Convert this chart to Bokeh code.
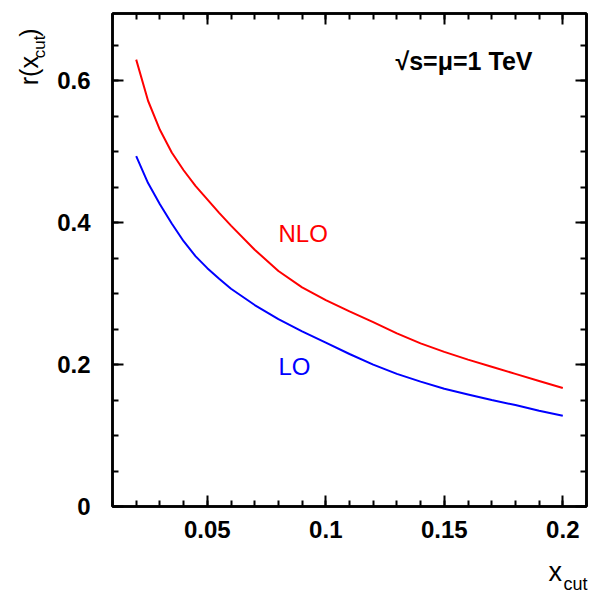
import math
from bokeh.plotting import figure
from bokeh.models import Label, LinearAxis, Range1d, FixedTicker
from bokeh.layouts import column, row
from bokeh.embed import file_html
from bokeh.resources import INLINE

x_cut = [0.02, 0.025, 0.03, 0.035, 0.04, 0.045, 0.05, 0.055, 0.06, 0.07, 0.08, 0.09,
         0.10, 0.11, 0.12, 0.13, 0.14, 0.15, 0.16, 0.17, 0.18, 0.19, 0.20]
r_nlo = [0.630, 0.572, 0.531, 0.499, 0.474, 0.452, 0.433, 0.414, 0.396, 0.362, 0.332, 0.309,
         0.291, 0.275, 0.260, 0.244, 0.230, 0.218, 0.207, 0.197, 0.187, 0.177, 0.167]
r_lo = [0.494, 0.456, 0.426, 0.399, 0.374, 0.353, 0.336, 0.321, 0.307, 0.284, 0.264, 0.247,
        0.231, 0.215, 0.200, 0.187, 0.176, 0.166, 0.158, 0.150, 0.143, 0.135, 0.128]
x_ticks = [0.05, 0.1, 0.15, 0.2]
y_ticks = [0, 0.2, 0.4, 0.6]

FONT = "Liberation Sans"
W, H = 593, 596
YLAB_W = 50          # width of the strip holding the y-axis title
XLAB_H = 46          # height of the strip holding the x-axis title
MAIN_W, MAIN_H = W - YLAB_W, H - XLAB_H
BASE_SHIFT = 0.38    # renderer draws alphabetic baselines this many em lower

X0, X1 = 0.01, 0.21
Y0, Y1 = 0.0, 0.695
# frame edges in page pixels
L, R, T, B = 112, 586, 13, 506

def px(x):
    return X0 + (x - L) / (R - L) * (X1 - X0)

def py(y):
    return Y0 + (B - y) / (B - T) * (Y1 - Y0)

p = figure(width=MAIN_W, height=MAIN_H, output_backend="svg", toolbar_location=None,
           x_range=Range1d(X0, X1), y_range=Range1d(Y0, Y1),
           min_border_left=L - YLAB_W, min_border_right=W - R,
           min_border_top=T, min_border_bottom=MAIN_H - B)
p.grid.visible = False
p.outline_line_color = "black"
p.outline_line_width = 2.5
p.background_fill_color = "white"
p.border_fill_color = "white"

def style_axis(ax, labels=True):
    ax.axis_line_color = "black"
    ax.axis_line_width = 2.5
    ax.major_tick_in = 11
    ax.major_tick_out = 0
    ax.minor_tick_in = 6
    ax.minor_tick_out = 0
    ax.major_tick_line_width = 2
    ax.minor_tick_line_width = 2
    ax.major_tick_line_color = "black"
    ax.minor_tick_line_color = "black"
    if labels:
        ax.major_label_text_font = FONT
        ax.major_label_text_font_size = "24px"
        ax.major_label_text_font_style = "bold"
        ax.major_label_text_color = "black"
    else:
        ax.major_label_text_font_size = "0px"
        ax.major_label_text_alpha = 0

xt = FixedTicker(ticks=x_ticks, minor_ticks=[round(0.01 * i, 2) for i in range(1, 22)])
yt = FixedTicker(ticks=y_ticks, minor_ticks=[round(0.05 * i, 2) for i in range(0, 15)])

p.xaxis.ticker = xt
p.yaxis.ticker = yt
p.xaxis.major_label_overrides = {0.05: "0.05", 0.1: "0.1", 0.15: "0.15", 0.2: "0.2"}
p.yaxis.major_label_overrides = {0: "0", 0.2: "0.2", 0.4: "0.4", 0.6: "0.6"}
style_axis(p.xaxis[0])
style_axis(p.yaxis[0])
p.xaxis.major_label_standoff = 14
p.yaxis.major_label_standoff = 22

top = LinearAxis(ticker=xt)
right = LinearAxis(ticker=yt)
style_axis(top, labels=False)
style_axis(right, labels=False)
p.add_layout(top, "above")
p.add_layout(right, "right")

p.line(x_cut, r_nlo, line_color="#ff0000", line_width=2)
p.line(x_cut, r_lo, line_color="#0000ff", line_width=2)

def lab(fig, x, y, text, size, color="black", angle=0.0, style="normal"):
    fig.add_layout(Label(x=x, y=y, text=text, text_font=FONT,
                         text_font_size=f"{size}px", text_color=color, angle=angle,
                         text_font_style=style, text_align="left",
                         text_baseline="alphabetic"))

# texts inside the plot frame (page pixels -> data)
lab(p, px(278), py(242 - BASE_SHIFT * 24), "NLO", 24, "#ff0000")
lab(p, px(278), py(375 - BASE_SHIFT * 24), "LO", 24, "#0000ff")
lab(p, px(395), py(70 - BASE_SHIFT * 25), "√s=μ=1 TeV", 25, "black", style="bold")

def strip(w, h):
    f = figure(width=w, height=h, output_backend="svg", toolbar_location=None,
               x_range=Range1d(0, w), y_range=Range1d(0, h),
               x_axis_location=None, y_axis_location=None,
               min_border=0)
    f.grid.visible = False
    f.outline_line_color = None
    f.background_fill_color = "white"
    f.border_fill_color = "white"
    return f

# y axis title r(x_cut), rotated: baseline x, start y (page pixels)
yl = strip(YLAB_W, MAIN_H)
lab(yl, 38 - BASE_SHIFT * 25, MAIN_H - 80, "r(x", 25, angle=math.pi / 2)
lab(yl, 45 - BASE_SHIFT * 17, MAIN_H - 50, "cut", 17, angle=math.pi / 2)
lab(yl, 38 - BASE_SHIFT * 25, MAIN_H - 26, ")", 25, angle=math.pi / 2)

# x axis title x_cut (page pixels -> strip)
xl = strip(W, XLAB_H)
lab(xl, 548, H - (582 - BASE_SHIFT * 27), "x", 27)
lab(xl, 563, H - (590 - BASE_SHIFT * 18), "cut", 18)

layout = column(row(yl, p, spacing=0), xl, spacing=0)
open("out.html", "w").write(file_html(layout, INLINE))
